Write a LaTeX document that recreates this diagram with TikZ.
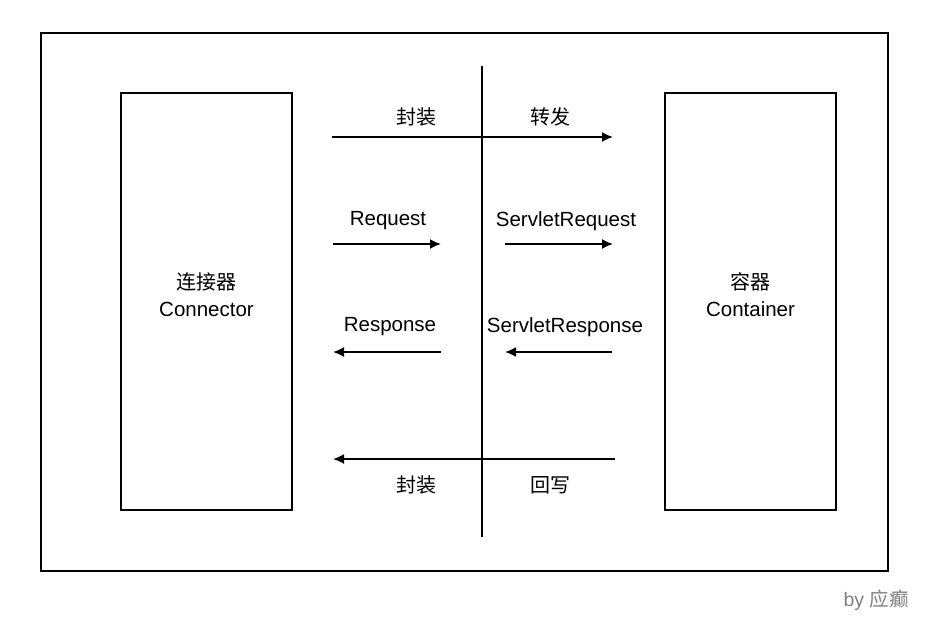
\documentclass[tikz,border=0pt]{standalone}
\usepackage{fontspec}
\setmainfont{Liberation Sans}
\newfontfamily\cjk{Noto Sans CJK SC}
\usetikzlibrary{arrows.meta}
\begin{document}
\begin{tikzpicture}[x=1pt,y=-1pt,
  frame/.style={draw=black,line width=1.8pt},
  bigbox/.style={draw=black,line width=1.6pt,minimum width=171pt,minimum height=417pt,inner sep=0pt},
  conn/.style={line width=1.7pt,-{Latex[length=11pt,width=10pt]}},
  lbl/.style={inner sep=0pt,font=\fontsize{20.5}{24}\selectfont},
  clbl/.style={inner sep=0pt,font=\cjk\fontsize{20}{24}\selectfont}]
\useasboundingbox (0,0) rectangle (945,618);
\draw[frame] (41,33) rectangle (888,571);
\node[bigbox] (conn) at (206.5,301.5) {};
\node[bigbox] (cont) at (750.5,301.5) {};
\node[clbl] (conncn) at (206.5,282) {连接器};
\node[lbl] (connen) at (206.5,309) {Connector};
\node[clbl] (contcn) at (750.5,282) {容器};
\node[lbl] (conten) at (750.5,309) {Container};
\coordinate (vt) at (482,66);
\coordinate (vb) at (482,537);
\draw[line width=1.6pt] (vt) -- (vb);
% top
\coordinate (a1) at (332,137); \coordinate (a2) at (613,137);
\draw[conn] (a1) -- (a2);
\node[clbl] (l1) at (416,117) {封装};
\node[clbl] (l2) at (550,117) {转发};
% request
\coordinate (r1) at (333,244); \coordinate (r2) at (441,244);
\draw[conn] (r1) -- (r2);
\node[lbl] (lr) at (388,221) {Request};
\coordinate (s1) at (505,244); \coordinate (s2) at (613,244);
\draw[conn] (s1) -- (s2);
\node[lbl] (ls) at (566,221) {ServletRequest};
% response
\coordinate (p1) at (441,352); \coordinate (p2) at (333,352);
\draw[conn] (p1) -- (p2);
\node[lbl] (lp) at (390,327) {Response};
\coordinate (q1) at (612,352); \coordinate (q2) at (505,352);
\draw[conn] (q1) -- (q2);
\node[lbl] (lq) at (565,327) {ServletResponse};
% bottom
\coordinate (b1) at (615,459); \coordinate (b2) at (333,459);
\draw[conn] (b1) -- (b2);
\node[clbl] (l3) at (416,485) {封装};
\node[clbl] (l4) at (550,485) {回写};
\node[inner sep=0pt,text=black!50,font=\fontsize{19.5}{22}\selectfont] (by) at (876,600) {by {\cjk 应癫}};
\end{tikzpicture}
\end{document}
